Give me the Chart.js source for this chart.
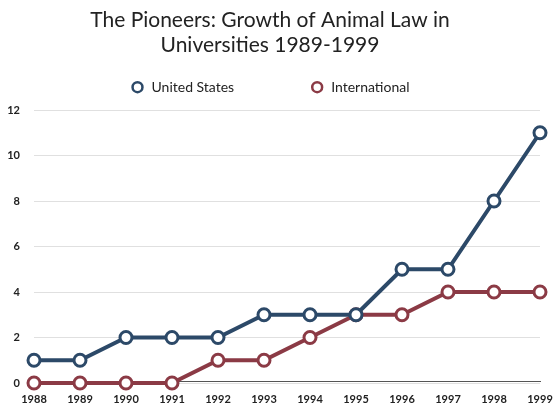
<!DOCTYPE html>
<html>
<head>
<meta charset="utf-8">
<script src="https://cdn.jsdelivr.net/npm/chart.js@4/dist/chart.umd.min.js"></script>
<style>
  html, body { margin: 0; padding: 0; background: #fff; }
  #wrap { width: 554px; height: 405px; }
</style>
</head>
<body>
<div id="wrap"><canvas id="chart"></canvas></div>
<script>
// datos
const years = ["1988", "1989", "1990", "1991", "1992", "1993", "1994", "1995", "1996", "1997", "1998", "1999"];
const unitedStates = [1, 1, 2, 2, 2, 3, 3, 3, 5, 5, 8, 11];
const international = [0, 0, 0, 0, 1, 1, 2, 3, 3, 4, 4, 4];
const yTicks = [0, 2, 4, 6, 8, 10, 12];

const blue = "#2c4968";
const red = "#8b3a45";
const fontFamily = "Lato, 'Open Sans', sans-serif";

function serie(label, data, color) {
    return {
        label: label,
        data: data,
        borderColor: color,
        backgroundColor: "#fff",
        borderWidth: 4,
        pointRadius: 6,
        pointBorderWidth: 3,
        pointBackgroundColor: "#fff",
        pointBorderColor: color,
        tension: 0,
        clip: false,
    };
}

// la leyenda necesita más espacio debajo (el padding de Chart.js es el mismo en x e y)
const legendGap = {
    id: "legendGap",
    beforeLayout(chart) {
        const lg = chart.legend;
        if (lg && !lg._gapPatched) {
            const fit = lg.fit.bind(lg);
            lg.fit = function () {
                fit();
                this.height += 4;
            };
            lg._gapPatched = true;
        }
    },
};

new Chart(document.getElementById("chart"), {
    type: "line",
    data: {
        labels: years,
        datasets: [
            serie("United States", unitedStates, blue),
            serie("International", international, red),
        ],
    },
    plugins: [legendGap],
    options: {
        responsive: true,
        maintainAspectRatio: false,
        animation: false,
        layout: { padding: { left: 0, right: 14, top: 6, bottom: 0 } },
        plugins: {
            title: {
                display: true,
                text: ["The Pioneers: Growth of Animal Law in", "Universities 1989-1999"],
                color: "#222",
                font: { family: fontFamily, size: 21, weight: "normal", lineHeight: 1.22 },
                padding: { top: 1, bottom: -54 },
            },
            legend: {
                display: true,
                labels: {
                    usePointStyle: true,
                    pointStyle: "circle",
                    boxWidth: 14,
                    boxHeight: 7,
                    color: "#222",
                    padding: 76,
                    font: { family: fontFamily, size: 14 },
                    generateLabels(chart) {
                        const items = Chart.defaults.plugins.legend.labels.generateLabels(chart);
                        items.forEach((it) => { it.lineWidth = 2.5; });
                        return items;
                    },
                },
            },
            tooltip: { enabled: false },
        },
        scales: {
            x: {
                offset: false,
                grid: { display: false, drawTicks: false },
                border: { display: true, color: "#555", width: 1 },
                afterFit: (axis) => {
                    axis.height = 22;
                    axis.paddingLeft = 0;
                    axis.paddingRight = 0;
                },
                ticks: {
                    color: "#222",
                    padding: 12,
                    maxRotation: 0,
                    font: { family: fontFamily, size: 11, weight: "bold" },
                },
            },
            y: {
                min: 0,
                max: 12,
                afterBuildTicks: (axis) => { axis.ticks = yTicks.map((v) => ({ value: v })); },
                afterFit: (axis) => { axis.width = 34; },
                grid: { color: "#e0e0e0", drawTicks: false, lineWidth: 1 },
                border: { display: false },
                ticks: {
                    color: "#222",
                    padding: 14,
                    font: { family: fontFamily, size: 11, weight: "bold" },
                },
            },
        },
    },
});
</script>
</body>
</html>
